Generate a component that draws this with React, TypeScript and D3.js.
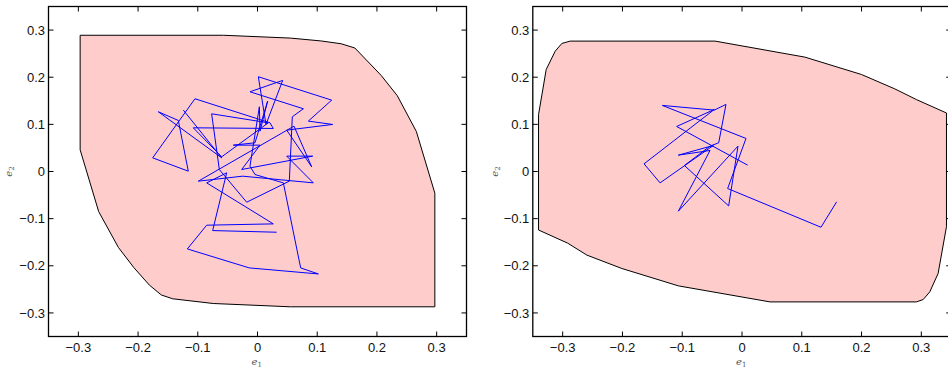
import React from 'react';
import * as d3 from 'd3';

const tickValues = [-0.3, -0.2, -0.1, 0, 0.1, 0.2, 0.3];
const tickLabels = ['\u22120.3', '\u22120.2', '\u22120.1', '0', '0.1', '0.2', '0.3'];
const axisDomain = [-0.35, 0.35];

const leftRegionE1 = [-0.297, -0.057, 0.055, 0.106, 0.140, 0.163, 0.207, 0.234, 0.266, 0.297, 0.297, 0.055, -0.074, -0.142, -0.161, -0.181, -0.207, -0.233, -0.266, -0.297];
const leftRegionE2 = [0.289, 0.289, 0.283, 0.277, 0.271, 0.262, 0.204, 0.161, 0.085, -0.046, -0.287, -0.287, -0.280, -0.270, -0.262, -0.241, -0.204, -0.161, -0.085, 0.046];

const leftWalkE1 = [-0.1242, -0.0600, -0.1661, -0.1326, -0.1159, -0.1756, -0.1047, 0.0209, 0.0265, -0.1075, -0.0600, 0.0181, -0.0768, -0.0639, -0.0181, 0.0533, 0.0583, 0.0768, -0.0126, 0.0422, 0.0142, 0.0014, 0.1242, 0.0851, 0.1259, 0.0489, 0.0907, 0.0611, -0.0991, -0.0248, 0.0935, 0.0489, 0.0924, -0.0265, 0.0042, -0.0405, -0.0042, 0.0170, 0.0042, 0.0031, -0.0126, -0.0042, 0.0433, 0.0723, 0.1019, -0.0137, -0.1175, -0.0851, 0.0265, -0.0851, -0.0516, -0.0751, 0.0321];
const leftWalkE2 = [0.1302, 0.0290, 0.1267, 0.1083, 0.0007, 0.0290, 0.1543, 0.1033, 0.0913, 0.0927, 0.0311, 0.1033, 0.1224, 0.0042, -0.0651, -0.0205, 0.1161, 0.1331, 0.1691, 0.1932, 0.0998, 0.2010, 0.1514, 0.1069, 0.0998, 0.0877, 0.0099, 0.0962, -0.0205, -0.0099, -0.0241, 0.0326, 0.0326, 0.0042, 0.0559, 0.0559, 0.0609, 0.1493, 0.0856, 0.1373, 0.0113, -0.0064, -0.0241, -0.2045, -0.2173, -0.2045, -0.1642, -0.1139, -0.1111, -0.0241, -0.0028, -0.1253, -0.1288];

const rightRegionE1 = [-0.3404, -0.3276, -0.3125, -0.3014, -0.2875, -0.0451, 0.1053, 0.2000, 0.2557, 0.2919, 0.3421, 0.3421, 0.3281, 0.3142, 0.3031, 0.2919, 0.0468, -0.1064, -0.2011, -0.2596, -0.2919, -0.3404];
const rightRegionE2 = [0.1206, 0.2163, 0.2553, 0.2716, 0.2766, 0.2766, 0.2426, 0.2057, 0.1752, 0.1525, 0.1241, -0.1170, -0.2163, -0.2553, -0.2716, -0.2766, -0.2766, -0.2426, -0.2057, -0.1773, -0.1518, -0.1241];

const rightWalkE1 = [0.0095, -0.1093, -0.0463, -0.1639, -0.1371, -0.0479, -0.1065, -0.0535, -0.1065, -0.0067, -0.0223, -0.0964, -0.0535, -0.0390, -0.0268, -0.0463, -0.1332, 0.0067, -0.0240, 0.1321, 0.1583];
const rightWalkE2 = [0.0134, 0.0955, 0.1316, 0.0163, -0.0241, 0.0552, 0.0347, 0.0446, -0.0842, 0.0538, -0.0729, 0.0127, 0.0538, 0.0609, 0.1423, 0.1302, 0.1401, 0.0701, -0.0361, -0.1182, -0.0644];

const FONT = '"Liberation Sans", Arial, Helvetica, sans-serif';
const SERIF = '"DejaVu Serif", "Liberation Serif", serif';

type PanelProps = {
  left: number; right: number; top: number; bottom: number;
  regionX: number[]; regionY: number[]; walkX: number[]; walkY: number[];
  ylabelX: number;
};

function Panel({ left, right, top, bottom, regionX, regionY, walkX, walkY, ylabelX }: PanelProps) {
  const x = d3.scaleLinear().domain(axisDomain).range([left, right]);
  const y = d3.scaleLinear().domain(axisDomain).range([bottom, top]);
  const line = d3.line<number>().x((_, i) => x(walkX[i])).y((_, i) => y(walkY[i]));
  const regionPath = d3.line<number>().x((_, i) => x(regionX[i])).y((_, i) => y(regionY[i]))
    .curve(d3.curveLinearClosed);
  const tl = 5;
  const midX = (left + right) / 2;
  const midY = (top + bottom) / 2;
  return (
    <g>
      <path d={regionPath(regionX) || ''} fill="#ffcccc" stroke="#000" strokeWidth={1} />
      <path d={line(walkX) || ''} fill="none" stroke="#0000ff" strokeWidth={1} strokeLinejoin="miter" />
      <rect x={left} y={top} width={right - left} height={bottom - top} fill="none" stroke="#000" strokeWidth={1.3} />
      {tickValues.map((v, i) => (
        <g key={'x' + i}>
          <line x1={x(v)} x2={x(v)} y1={bottom} y2={bottom - tl} stroke="#000" strokeWidth={1} />
          <line x1={x(v)} x2={x(v)} y1={top} y2={top + tl} stroke="#000" strokeWidth={1} />
          <text x={x(v)} y={bottom + 15.5} textAnchor="middle" fontFamily={FONT} fontSize={13} fill="#111">{tickLabels[i]}</text>
        </g>
      ))}
      {tickValues.map((v, i) => (
        <g key={'y' + i}>
          <line x1={left} x2={left + tl} y1={y(v)} y2={y(v)} stroke="#000" strokeWidth={1} />
          <line x1={right} x2={right - tl} y1={y(v)} y2={y(v)} stroke="#000" strokeWidth={1} />
          <text x={left - 3.5} y={y(v) + 4.6} textAnchor="end" fontFamily={FONT} fontSize={13} fill="#111">{tickLabels[i]}</text>
        </g>
      ))}
      <text x={midX - 6} y={364.5} fontFamily={SERIF} fontStyle="italic" fontSize={10} fill="#555">
        e<tspan fontSize={7} dy={2} fontStyle="normal">1</tspan>
      </text>
      <text transform={`translate(${ylabelX},${midY}) rotate(-90)`} textAnchor="middle" fontFamily={SERIF} fontStyle="italic" fontSize={10} fill="#555">
        e<tspan fontSize={7} dy={2} fontStyle="normal">2</tspan>
      </text>
    </g>
  );
}

export default function App() {
  const top = 6.5;
  const bottom = 336.5;
  return (
    <svg width={948} height={370} style={{ position: 'absolute', left: 0, top: 0, background: '#fff' }}>
      <rect x={0} y={0} width={948} height={370} fill="#fff" />
      <Panel left={48.5} right={466.5} top={top} bottom={bottom}
        regionX={leftRegionE1} regionY={leftRegionE2} walkX={leftWalkE1} walkY={leftWalkE2} ylabelX={12} />
      <Panel left={532.8} right={951.2} top={top} bottom={bottom}
        regionX={rightRegionE1} regionY={rightRegionE2} walkX={rightWalkE1} walkY={rightWalkE2} ylabelX={498} />
    </svg>
  );
}
